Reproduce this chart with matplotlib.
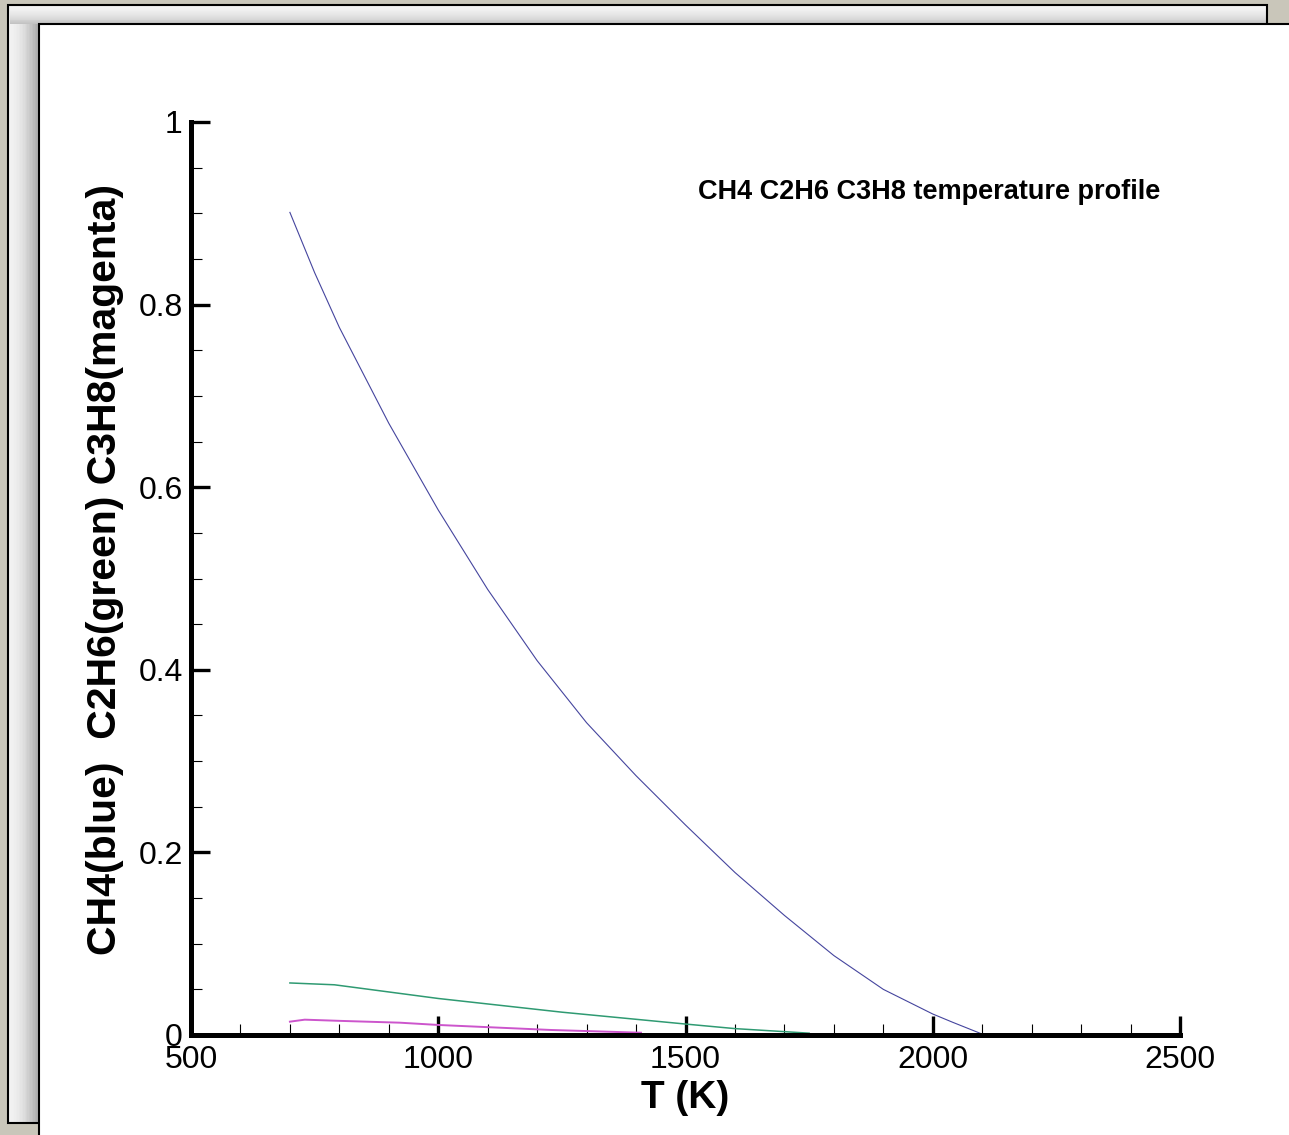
import numpy as np
import matplotlib
matplotlib.use('Agg')
import matplotlib.pyplot as plt
from matplotlib.patches import Rectangle
from matplotlib.ticker import MultipleLocator, FuncFormatter

# data
T_ch4 = [700, 750, 800, 900, 1000, 1100, 1200, 1300, 1400, 1500, 1600, 1700, 1800, 1900, 2000, 2040, 2100]
ch4 = [0.901, 0.835, 0.775, 0.670, 0.575, 0.488, 0.410, 0.342, 0.284, 0.230, 0.178, 0.131, 0.087, 0.050, 0.023, 0.014, 0.001]

T_c2h6 = [700, 790, 1000, 1250, 1500, 1600, 1750]
c2h6 = [0.057, 0.055, 0.040, 0.025, 0.012, 0.007, 0.002]

T_c3h8 = [700, 730, 800, 922, 1000, 1228, 1410]
c3h8 = [0.0146, 0.0168, 0.0155, 0.0135, 0.011, 0.0055, 0.0025]

W, H = 1289, 1135
plt.rcParams['font.family'] = ['Liberation Sans', 'DejaVu Sans']

fig = plt.figure(figsize=(W/100, H/100), dpi=100)
fig.patch.set_facecolor('#c9c6ba')

def rect(x0, y0, x1, y1, **kw):
    r = Rectangle((x0/W, 1 - y1/H), (x1 - x0)/W, (y1 - y0)/H,
                  transform=fig.transFigure, **kw)
    fig.add_artist(r)
    return r

# back page with soft shading, then the front page
rect(8, 5, 1267, 1123, facecolor='#f2f2f2', edgecolor='black', linewidth=1.5, zorder=-10)
nstep = 20
for i in range(nstep):
    f = (i + 1) / nstep
    # shadow of the front page falling to the left
    rect(10 + i*29/nstep, 24, 39, 1122, facecolor='black', alpha=0.03*f, edgecolor='none', zorder=-9)
    # shading along the top strip
    rect(10, 6 + i*18/nstep, 1266, 24, facecolor='black', alpha=0.018*f, edgecolor='none', zorder=-9)
rect(39, 24, 1300, 1150, facecolor='white', edgecolor='black', linewidth=1.5, zorder=-7)

ax = fig.add_axes([191/W, 1 - 1035/H, 989/W, 913/H])
ax.patch.set_visible(False)

ax.plot(T_ch4, ch4, color='#45459e', linewidth=0.8)
ax.plot(T_c2h6, c2h6, color='#2f9a72', linewidth=1.1)
ax.plot(T_c3h8, c3h8, color='#cc55cc', linewidth=1.4)

ax.set_xlim(500, 2500)
ax.set_ylim(0, 1)
ax.spines['top'].set_visible(False)
ax.spines['right'].set_visible(False)
ax.spines['left'].set_linewidth(3.6)
ax.spines['bottom'].set_linewidth(3.6)
ax.spines['left'].set_capstyle('projecting')
ax.spines['bottom'].set_capstyle('projecting')

ax.xaxis.set_major_locator(MultipleLocator(500))
ax.xaxis.set_minor_locator(MultipleLocator(100))
ax.yaxis.set_major_locator(MultipleLocator(0.2))
ax.yaxis.set_minor_locator(MultipleLocator(0.05))
ax.yaxis.set_major_formatter(FuncFormatter(lambda v, p: '%g' % round(v, 2)))
ax.tick_params(which='major', direction='in', length=14, width=2.4, labelsize=23)
ax.tick_params(axis='x', which='major', pad=7)
ax.tick_params(axis='y', which='major', pad=6)
ax.tick_params(which='minor', direction='in', length=8, width=0.8)

ax.set_xlabel('T (K)', fontsize=28, fontweight='bold', labelpad=4)
ax.set_ylabel('CH4(blue)  C2H6(green) C3H8(magenta)', fontsize=29.5, fontweight='bold', va='center')
ax.yaxis.set_label_coords(-0.087, 0.51)

ax.text(0.5126, 0.923, 'CH4 C2H6 C3H8 temperature profile', transform=ax.transAxes,
        fontsize=19.5, fontweight='bold', ha='left', va='center')

plt.savefig('out.png', dpi=100, facecolor=fig.get_facecolor())
